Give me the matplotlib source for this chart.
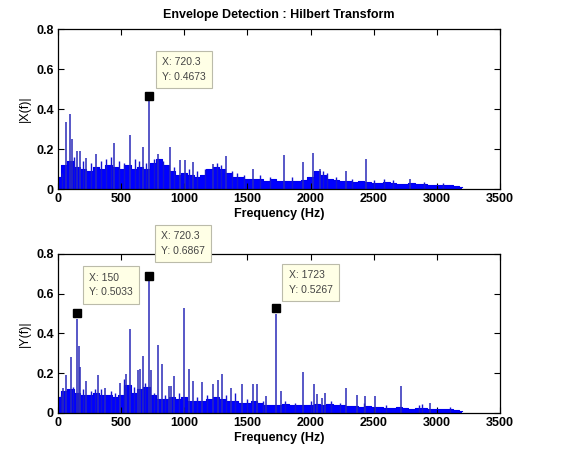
import matplotlib
matplotlib.use("Agg")
import matplotlib.pyplot as plt

plt.rcParams['font.family'] = ['Liberation Sans', 'DejaVu Sans']

title = "Envelope Detection : Hilbert Transform"
xlabel = "Frequency (Hz)"
ylabels = ["|X(f)|", "|Y(f)|"]
xticks = [0, 500, 1000, 1500, 2000, 2500, 3000, 3500]
yticks = [0, 0.2, 0.4, 0.6, 0.8]
yticklabels = ["0", "0.2", "0.4", "0.6", "0.8"]

# background floor of spectrum, every 50 Hz
floor_f = list(range(0, 3201, 50))
floor_x = [0.06, 0.12, 0.14, 0.11, 0.10, 0.09, 0.11, 0.10, 0.12, 0.11, 0.10, 0.12, 0.10,
           0.11, 0.10, 0.13, 0.15, 0.12, 0.09, 0.07, 0.08, 0.07, 0.06, 0.07, 0.10, 0.11,
           0.10, 0.08, 0.06, 0.06, 0.05, 0.05, 0.05, 0.04, 0.05, 0.04, 0.04, 0.04, 0.04,
           0.045, 0.06, 0.09, 0.07, 0.05, 0.045, 0.04, 0.04, 0.035, 0.04, 0.035, 0.03,
           0.03, 0.035, 0.03, 0.025, 0.025, 0.03, 0.025, 0.025, 0.02, 0.02, 0.02, 0.018,
           0.015, 0.012]
floor_y = [0.08, 0.11, 0.12, 0.10, 0.09, 0.09, 0.10, 0.09, 0.09, 0.08, 0.09, 0.14, 0.10,
           0.12, 0.13, 0.09, 0.07, 0.07, 0.08, 0.07, 0.08, 0.06, 0.06, 0.06, 0.07, 0.08,
           0.07, 0.06, 0.06, 0.05, 0.05, 0.06, 0.05, 0.04, 0.04, 0.04, 0.045, 0.04, 0.04,
           0.04, 0.04, 0.045, 0.04, 0.045, 0.04, 0.04, 0.035, 0.035, 0.03, 0.035, 0.03,
           0.03, 0.025, 0.025, 0.03, 0.025, 0.02, 0.025, 0.025, 0.02, 0.02, 0.02, 0.018,
           0.015, 0.012]

# small lines sitting on the floor
minor_fx = [30, 130, 200, 260, 340, 380, 420, 480, 520, 610, 640, 700, 760, 830, 920, 1040,
            1100, 1160, 1260, 1290, 1380, 1420, 1470, 1600, 1680, 1850, 2100, 2130, 2200,
            2330, 2500, 2580, 2650, 2900, 3050]
minor_ax = [0.08, 0.16, 0.14, 0.13, 0.14, 0.15, 0.16, 0.14, 0.13, 0.15, 0.14, 0.13, 0.15,
            0.14, 0.11, 0.10, 0.09, 0.10, 0.13, 0.12, 0.09, 0.08, 0.07, 0.07, 0.06, 0.06,
            0.09, 0.08, 0.06, 0.05, 0.045, 0.05, 0.045, 0.035, 0.03]
minor_fy = [20, 120, 200, 260, 290, 340, 420, 450, 520, 600, 690, 760, 850, 960, 1100, 1180,
            1330, 1400, 1500, 1620, 1800, 1880, 2000, 2160, 2230, 2420, 2600, 2860, 2880,
            3100]
minor_ay = [0.09, 0.13, 0.12, 0.11, 0.12, 0.12, 0.11, 0.10, 0.17, 0.13, 0.15, 0.10, 0.09,
            0.10, 0.08, 0.09, 0.09, 0.10, 0.07, 0.06, 0.06, 0.05, 0.06, 0.06, 0.05, 0.05,
            0.04, 0.04, 0.045, 0.03]

# discrete spectral lines
peak_fx = [66, 92, 114, 150, 172, 224, 304, 444, 568, 673, 720.3, 792, 884, 964, 1003,
           1069, 1228, 1333, 1544, 1787, 1940, 2020, 2072, 2284, 2437, 2785]
peak_ax = [0.336, 0.375, 0.248, 0.19, 0.19, 0.157, 0.177, 0.228, 0.268, 0.21, 0.4673,
           0.177, 0.21, 0.144, 0.144, 0.136, 0.127, 0.164, 0.102, 0.169, 0.136, 0.182,
           0.10, 0.09, 0.149, 0.052]
peak_fy = [40, 66, 100, 150, 163, 172, 219, 320, 370, 489, 536, 570, 634, 652, 673, 720.3,
           739, 795, 824, 877, 898, 916, 995, 1037, 1069, 1143, 1228, 1267, 1299, 1373,
           1460, 1544, 1576, 1650, 1723, 1764, 1940, 2025, 2051, 2094, 2112, 2284, 2371,
           2434, 2513, 2714, 2944]
peak_ay = [0.127, 0.19, 0.28, 0.475, 0.337, 0.23, 0.16, 0.19, 0.127, 0.152, 0.197, 0.425,
           0.216, 0.223, 0.287, 0.6867, 0.214, 0.34, 0.245, 0.136, 0.136, 0.186, 0.528,
           0.22, 0.16, 0.157, 0.144, 0.164, 0.194, 0.127, 0.147, 0.147, 0.147, 0.085,
           0.50, 0.109, 0.206, 0.147, 0.095, 0.077, 0.102, 0.124, 0.09, 0.085, 0.085,
           0.136, 0.05]

# data tips: (x, y, offset px)
tips_x = [(720.3, 0.4673, (6, 8))]
tips_y = [(150, 0.5033, (5, 10)), (720.3, 0.6867, (5, 15)), (1723, 0.5267, (6, 8))]

fig = plt.figure(figsize=(5.66, 4.57), dpi=100)
ax1 = fig.add_axes([0.1025, 0.5864, 0.781, 0.350])
ax2 = fig.add_axes([0.1025, 0.0963, 0.781, 0.348])

panels = [(ax1, floor_x, minor_fx, minor_ax, peak_fx, peak_ax, tips_x, ylabels[0]),
          (ax2, floor_y, minor_fy, minor_ay, peak_fy, peak_ay, tips_y, ylabels[1])]

for ax, fl, mf, ma, pf, pa, tips, yl in panels:
    ax.fill_between(floor_f, fl, step='mid', color='#0000ff', lw=0)
    ax.step(floor_f, fl, where='mid', color='#0000ee', lw=0.8)
    ax.vlines(mf, 0, ma, color='#1515d0', lw=1.0)
    ax.vlines(pf, 0, pa, color='#2a2ab8', lw=1.1)
    ax.set_xlim(0, 3500)
    ax.set_ylim(0, 0.8)
    ax.set_xticks(xticks)
    ax.set_xticklabels([str(t) for t in xticks], fontweight='bold', fontsize=9)
    ax.set_yticks(yticks)
    ax.set_yticklabels(yticklabels, fontweight='bold', fontsize=9)
    ax.tick_params(direction='in', top=True, right=True, length=4, width=0.8, pad=3)
    ax.set_xlabel(xlabel, fontweight='bold', fontsize=9, labelpad=2)
    ax.set_ylabel(yl, fontsize=9, labelpad=4)
    for sp in ax.spines.values():
        sp.set_linewidth(0.9)
    for (tx, ty, off) in tips:
        ax.plot([tx], [ty], 's', color='k', ms=6, clip_on=False, zorder=5)
        ax.annotate(f"X: {tx:g}\nY: {ty:.4f}", xy=(tx, ty),
                    xytext=(off[0] * 0.72 + 5, off[1] * 0.72 + 4), textcoords='offset points',
                    fontsize=7.5, color='#444444', ha='left', va='bottom', linespacing=1.6,
                    annotation_clip=False, zorder=6,
                    bbox=dict(boxstyle='square,pad=0.6', fc='#ffffe6', ec='#bbbbaa', lw=0.8))

ax1.set_title(title, fontweight='bold', fontsize=9, pad=8)

fig.savefig("out.png", dpi=100)
